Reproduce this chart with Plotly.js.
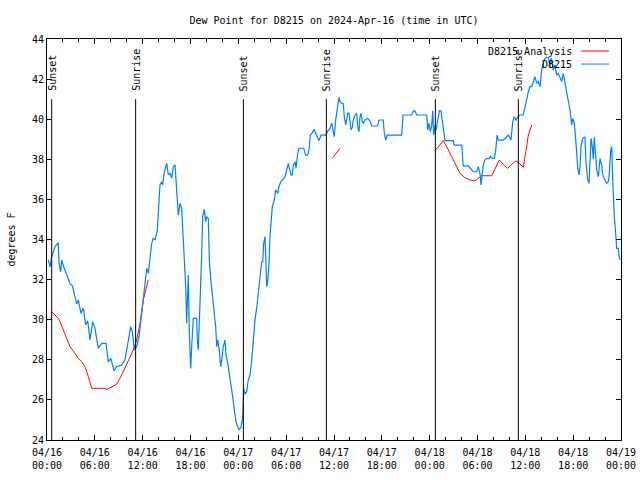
<!DOCTYPE html>
<html>
<head>
<meta charset="utf-8">
<script src="https://cdn.plot.ly/plotly-3.0.1.min.js"></script>
<style>html,body{margin:0;padding:0;background:#fff;}#chart{width:640px;height:480px;}</style>
</head>
<body>
<div id="chart"></div>
<script>
// Time is hours since 2024-04-16 00:00 UTC
const tickHours = [0, 6, 12, 18, 24, 30, 36, 42, 48, 54, 60, 66, 72];
const tickLabels = ["04/16<br>00:00","04/16<br>06:00","04/16<br>12:00","04/16<br>18:00",
  "04/17<br>00:00","04/17<br>06:00","04/17<br>12:00","04/17<br>18:00",
  "04/18<br>00:00","04/18<br>06:00","04/18<br>12:00","04/18<br>18:00","04/19<br>00:00"];

const sunHours = [0.59, 11.12, 24.63, 35.04, 48.71, 59.12];
const sunLabels = ["Sunset", "Sunrise", "Sunset", "Sunrise", "Sunset", "Sunrise"];

const obsHours = [0.16,0.38,0.59,1.00,1.42,1.51,1.72,1.84,2.04,2.47,2.89,3.17,3.51,3.73,3.93,4.26,4.55,4.85,5.11,5.39,
  5.73,6.02,6.43,6.86,7.40,7.69,7.99,8.40,8.74,9.37,9.78,10.20,10.50,10.70,10.95,11.25,11.54,11.88,12.29,12.51,
  12.71,12.92,13.13,13.33,13.55,13.84,14.05,14.17,14.39,14.51,14.68,14.89,15.02,15.22,15.43,15.64,15.84,16.06,16.27,16.47,
  16.68,16.90,17.02,17.22,17.40,17.52,17.65,17.72,17.85,18.03,18.15,18.35,18.78,18.85,18.98,19.10,19.28,19.41,19.53,19.73,
  19.91,20.03,20.23,20.36,20.57,20.74,20.95,21.16,21.29,21.41,21.61,21.79,21.91,22.11,22.33,22.45,22.67,22.87,23.08,23.29,
  23.50,23.71,23.92,24.12,24.34,24.50,24.59,24.67,24.84,25.05,25.25,25.46,25.68,25.88,26.09,26.30,26.51,26.72,26.93,27.06,
  27.18,27.35,27.47,27.56,27.68,27.85,27.97,28.10,28.26,28.51,28.69,28.94,29.10,29.32,29.57,29.85,30.07,30.27,30.39,30.61,
  30.77,30.90,31.11,31.23,31.45,31.61,32.20,32.45,32.70,32.87,33.03,33.28,33.49,33.71,33.91,34.12,34.37,34.96,35.19,35.50,
  35.71,35.91,36.04,36.21,36.42,36.63,36.75,36.97,37.17,37.29,37.47,37.59,37.72,37.88,38.01,38.13,38.30,38.42,38.63,38.85,
  38.97,39.14,39.26,39.39,39.55,39.68,39.89,40.23,40.52,40.73,41.48,41.65,42.18,42.31,42.49,42.65,44.49,44.66,45.75,45.95,
  46.16,46.37,47.63,47.75,47.92,48.08,48.26,48.38,48.51,48.67,48.80,49.01,49.21,49.42,49.59,49.80,49.92,50.97,51.09,52.02,
  52.22,52.85,53.06,53.47,53.90,54.10,54.31,54.44,54.53,54.73,54.94,55.16,55.44,55.66,55.86,56.11,56.29,56.45,56.61,57.24,
  57.45,57.87,58.20,58.42,58.62,58.83,59.12,59.33,59.75,59.96,60.17,60.38,60.59,60.80,61.00,61.21,61.43,61.63,61.84,62.05,
  62.25,62.47,62.68,62.88,63.10,63.22,63.38,63.51,63.72,63.93,64.13,64.35,64.56,64.76,64.98,65.19,65.39,65.60,65.82,65.94,
  66.15,66.32,66.45,66.57,66.73,66.86,66.98,67.20,67.48,67.61,67.82,67.99,68.11,68.24,68.40,68.53,68.65,68.83,68.95,69.16,
  69.37,69.58,69.71,69.99,70.21,70.41,70.52,70.71,70.83,70.96,71.03,71.16,71.32,71.46,71.66,71.79,71.94];
const obsDew = [32.98,32.64,33.14,33.64,33.84,32.81,32.39,32.98,32.70,32.23,31.80,31.70,31.15,30.78,30.98,30.32,30.57,29.74,29.95,28.99,
  29.90,29.57,28.57,28.82,28.82,27.90,28.07,27.46,27.66,27.74,27.99,28.99,29.65,29.40,28.49,28.65,29.15,30.32,31.80,32.56,
  32.31,32.98,33.81,34.06,33.98,34.47,35.80,36.72,36.88,36.72,37.30,37.72,37.80,37.22,37.30,37.05,37.63,37.72,36.30,35.22,
  35.80,35.56,34.56,32.98,31.65,29.82,31.65,32.23,29.32,27.57,28.65,30.07,30.07,28.99,28.49,29.74,31.15,33.31,35.14,35.50,
  34.89,35.14,35.05,32.98,31.90,31.23,30.65,29.65,28.65,28.99,28.49,27.66,27.99,28.65,28.99,28.24,27.83,27.33,26.83,26.16,
  25.50,24.91,24.66,24.50,24.66,25.00,25.50,26.58,26.29,26.41,26.99,27.24,27.99,29.07,29.99,30.57,31.32,32.39,32.89,32.89,
  33.81,34.14,32.48,31.65,31.90,32.81,34.14,35.06,35.64,35.97,36.47,36.30,36.63,36.88,37.00,37.13,37.47,37.80,37.55,37.22,
  37.22,37.72,37.88,37.55,38.30,38.55,38.55,38.21,38.21,38.46,39.21,39.33,39.50,39.30,39.05,38.93,39.21,39.21,39.38,39.55,
  39.80,39.38,39.13,39.96,40.54,41.09,40.87,40.79,40.77,40.13,39.71,40.13,40.29,40.30,39.88,39.46,39.60,39.96,40.21,40.29,
  39.63,39.38,40.13,40.29,39.88,39.80,39.96,40.04,39.91,39.66,39.66,39.96,39.96,39.30,38.96,39.21,39.21,40.21,40.21,40.42,
  40.42,40.21,40.21,39.46,39.80,39.38,39.70,40.42,39.21,39.70,39.46,39.96,40.42,40.42,39.96,39.38,38.93,38.93,38.71,38.71,
  37.67,37.67,37.55,37.38,37.38,37.63,37.30,36.72,37.05,37.72,37.97,38.05,38.02,38.16,38.05,38.05,38.46,39.21,38.96,38.96,
  39.04,39.21,38.96,39.88,40.13,39.96,40.13,40.21,40.21,40.62,40.96,41.37,41.62,41.62,41.87,42.12,41.79,41.87,41.62,42.45,
  42.79,43.04,43.09,43.09,42.62,43.04,42.79,42.45,42.70,42.20,42.29,42.04,41.87,42.29,41.79,41.45,40.96,40.46,39.71,40.04,
  39.80,39.13,38.30,37.55,37.22,37.63,38.63,39.05,39.10,37.80,36.97,36.80,38.00,39.05,38.63,38.00,39.10,38.00,37.47,37.13,
  38.05,37.72,37.22,36.97,36.80,36.88,37.22,38.46,38.63,36.97,36.22,35.14,34.39,33.56,33.56,33.06,33.00];

const anaHours = [0.59,1.00,1.42,1.63,2.04,2.47,2.89,3.51,3.93,4.35,4.77,5.18,5.61,7.06,7.49,7.90,8.74,9.16,9.57,10.00,
  10.41,10.83,11.25,11.67,12.08,12.50,12.70, null,
  35.79,36.75, null,
  48.67,49.71,50.14,50.76,51.39,51.81,52.43,53.06,53.69,54.10,54.53,55.78,56.20,56.74,57.24,57.74,58.29,58.79,59.12,59.46,
  59.75,59.96,60.17,60.38,60.59,60.80];
const anaDew = [30.40,30.23,30.07,29.90,29.49,28.99,28.65,28.32,28.07,27.90,27.66,27.16,26.58,26.58,26.53,26.60,26.78,27.08,27.41,27.74,
  28.07,28.49,28.99,29.82,30.98,31.65,31.98, null,
  38.05,38.55, null,
  38.43,38.93,38.63,38.13,37.63,37.30,37.08,36.97,36.92,37.05,37.18,37.18,37.55,37.97,37.75,37.55,37.75,37.92,37.85,37.72,
  37.60,38.13,38.71,39.21,39.46,39.71];

const seriesNames = ["D8215 Analysis", "D8215"];
const seriesColors = ["#ff0000", "#0080ff"];

const FONT = "DejaVu Sans Mono, monospace";

const traces = [
  {x: anaHours, y: anaDew, type: "scatter", mode: "lines", name: seriesNames[0],
   line: {color: seriesColors[0], width: 1}, connectgaps: false},
  {x: obsHours, y: obsDew, type: "scatter", mode: "lines", name: seriesNames[1],
   line: {color: seriesColors[1], width: 1.2}}
];

const shapes = sunHours.map(h => ({type: "line", xref: "x", yref: "y", x0: h, x1: h, y0: 24, y1: 41.0,
  line: {color: "#000", width: 1}}));

const annotations = sunHours.map((h, i) => ({x: h, y: 41.3, xref: "x", yref: "y", text: sunLabels[i],
  textangle: -90, showarrow: false, xanchor: "center", yanchor: "bottom",
  font: {family: FONT, size: 10, color: "#000"}}));

// manual gnuplot-style key (text right-aligned, sample line on the right)
const keyRows = [0.9700, 0.9375];
seriesNames.forEach((n, i) => {
  annotations.push({x: 0.918, y: keyRows[i], xref: "paper", yref: "paper", text: n, showarrow: false,
    xanchor: "right", yanchor: "middle", font: {family: FONT, size: 10, color: "#000"}});
  shapes.push({type: "line", xref: "paper", yref: "paper", x0: 0.930, x1: 0.979, y0: keyRows[i], y1: keyRows[i],
    line: {color: seriesColors[i], width: 1}});
});

const layout = {
  width: 640, height: 480,
  margin: {l: 47, r: 19, t: 39, b: 40},
  paper_bgcolor: "#fff", plot_bgcolor: "#fff",
  showlegend: false,
  font: {family: FONT, size: 10, color: "#000"},
  title: {text: "Dew Point for D8215 on 2024-Apr-16 (time in UTC)", x: 0.5, xref: "paper",
    y: 0.958, yref: "container", yanchor: "middle", font: {family: FONT, size: 10, color: "#000"}},
  xaxis: {range: [0, 72], tickvals: tickHours, ticktext: tickLabels, ticks: "inside", ticklen: 5,
    tickcolor: "#000", showgrid: false, zeroline: false, showline: true, linecolor: "#000", linewidth: 1,
    mirror: "ticks", tickfont: {family: FONT, size: 10}, ticklabelstandoff: 3,
    minor: {dtick: 2, tick0: 0, ticks: "inside", ticklen: 3, tickcolor: "#000", showgrid: false}},
  yaxis: {range: [24, 44], dtick: 2, tick0: 24, ticks: "inside", ticklen: 5, tickcolor: "#000",
    showgrid: false, zeroline: false, showline: true, linecolor: "#000", linewidth: 1, mirror: "ticks",
    tickfont: {family: FONT, size: 10},
    title: {text: "degrees F", standoff: 14, font: {family: FONT, size: 10}}},
  shapes: shapes,
  annotations: annotations,
  hovermode: false
};

Plotly.newPlot("chart", traces, layout, {displayModeBar: false, staticPlot: true});
</script>
</body>
</html>
